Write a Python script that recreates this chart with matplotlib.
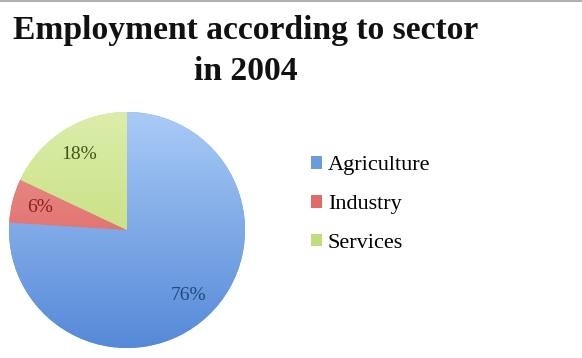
import numpy as np
import matplotlib
matplotlib.use('Agg')
import matplotlib.pyplot as plt
from matplotlib.colors import LinearSegmentedColormap
from matplotlib.lines import Line2D

sectors = ['Agriculture', 'Industry', 'Services']
shares = [76, 6, 18]
# top/bottom shades of each slice and the darker label colour
tops = ['#a9cbf6', '#ec9a96', '#dcedaa']
bottoms = ['#5589d8', '#d9514f', '#b9d766']
swatch = ['#6a9ae0', '#e06a67', '#c2dc7c']
textcol = ['#24467a', '#8a1f1f', '#3e581a']

plt.rcParams['font.family'] = ['Liberation Serif', 'DejaVu Serif']

fig = plt.figure(figsize=(5.82, 3.58), dpi=100)
fig.patch.set_facecolor('white')

W, H = 582.0, 358.0
cx, cy, r = 127, 230, 118
ax = fig.add_axes([(cx - r) / W, (H - cy - r) / H, 2 * r / W, 2 * r / H])

wedges, texts, autotexts = ax.pie(shares, colors=swatch, startangle=90,
                                  counterclock=False, autopct='%d%%',
                                  pctdistance=0.76,
                                  textprops={'fontsize': 14})
ax.set_xlim(-1, 1)
ax.set_ylim(-1, 1)

# vertical gradient clipped to each wedge
grad = np.linspace(1, 0, 256).reshape(-1, 1)
for w, t, b, tc, at in zip(wedges, tops, bottoms, textcol, autotexts):
    cmap = LinearSegmentedColormap.from_list('g', [b, t])
    im = ax.imshow(grad, cmap=cmap, extent=(-1, 1, -1, 1), origin='upper',
                   aspect='auto', zorder=w.get_zorder() + 0.1, vmin=0, vmax=1)
    im.set_clip_path(w)
    at.set_color(tc)
    at.set_zorder(5)
ax.set_xlim(-1, 1)
ax.set_ylim(-1, 1)
ax.axis('off')

handles = [plt.Rectangle((0, 0), 1, 1, facecolor=c, edgecolor='none') for c in swatch]
fig.legend(handles, sectors, loc='upper left', bbox_to_anchor=(300 / W, 1 - 145 / H),
           frameon=False, fontsize=16, handlelength=0.5, handleheight=0.5,
           handletextpad=0.25, labelspacing=0.88, borderpad=0)

fig.text(246 / W, 1 - 30 / H, 'Employment according to sector', ha='center', va='center',
         fontsize=24.2, fontweight='bold', color='#111111')
fig.text(246 / W, 1 - 72 / H, 'in 2004', ha='center', va='center',
         fontsize=24.2, fontweight='bold', color='#111111')

fig.add_artist(Line2D([0, 1], [0.998, 0.998], color='#b0b0b0', lw=1.5,
                      transform=fig.transFigure))

fig.savefig('out.png', dpi=100)
